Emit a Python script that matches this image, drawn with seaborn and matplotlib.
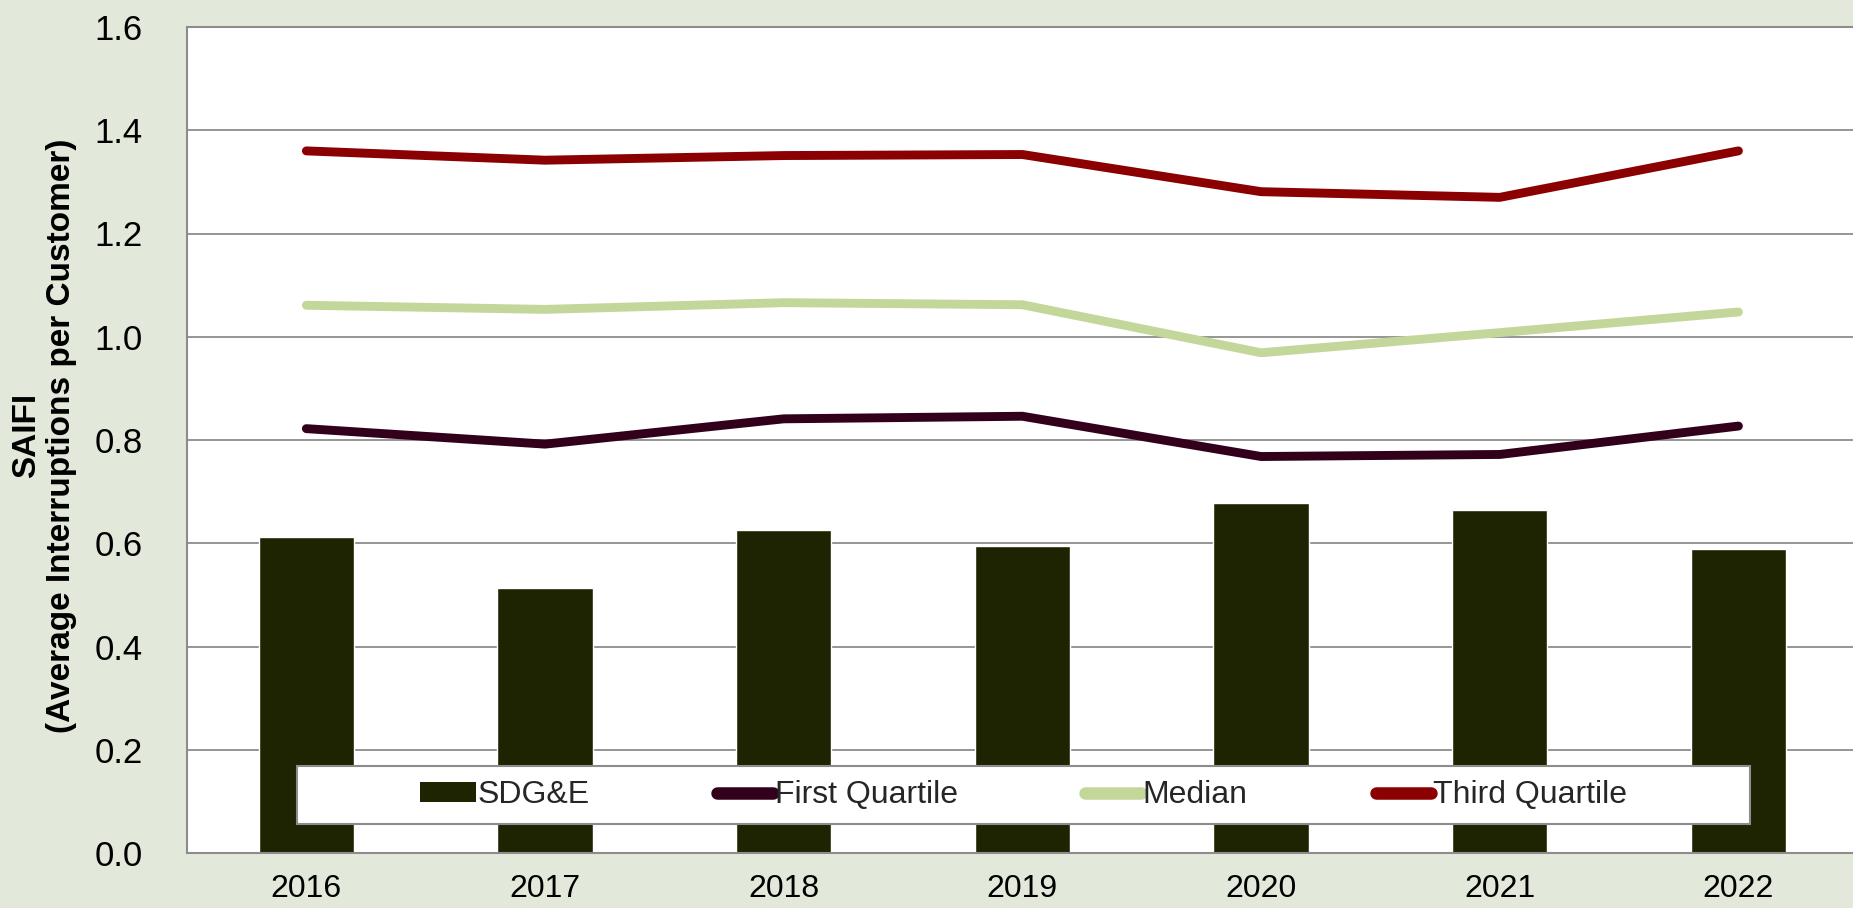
#!/usr/bin/env python3

import numpy as np
import pandas as pd
import seaborn as sns
import matplotlib as mpl
import matplotlib.pyplot as plt
from matplotlib.patches import Patch, Rectangle
from matplotlib.lines import Line2D

sns.set_theme(style="white")
mpl.rcParams["font.family"] = ["Liberation Sans", "DejaVu Sans"]

years = ["2016", "2017", "2018", "2019", "2020", "2021", "2022"]
sdge = [0.613, 0.513, 0.626, 0.594, 0.677, 0.664, 0.589]
first_quartile = [0.822, 0.792, 0.841, 0.846, 0.768, 0.772, 0.827]
median = [1.061, 1.053, 1.066, 1.062, 0.969, 1.008, 1.048]
third_quartile = [1.360, 1.342, 1.351, 1.353, 1.281, 1.270, 1.360]

series_names = ["First Quartile", "Median", "Third Quartile"]
colors = {"SDG&E": "#1E2402", "First Quartile": "#33001C",
          "Median": "#C4D79B", "Third Quartile": "#8B0000"}

bar_df = pd.DataFrame({"year": years, "value": sdge})
line_df = pd.concat(
    [pd.DataFrame({"year": years, "value": v, "series": n})
     for n, v in zip(series_names, [first_quartile, median, third_quartile])]
)

bg = "#E2E8DA"
fig = plt.figure(figsize=(18.53, 9.08), dpi=100, facecolor=bg)
ax = fig.add_axes([187 / 1853, 1 - 853 / 908, 1 - 187 / 1853, (853 - 27) / 908])
ax.set_facecolor("white")

sns.barplot(ax=ax, data=bar_df, x="year", y="value", color=colors["SDG&E"],
            width=0.4, saturation=1, errorbar=None, zorder=2)
sns.pointplot(ax=ax, data=line_df, x="year", y="value", hue="series",
              hue_order=series_names, palette=colors, markers="", errorbar=None,
              linewidth=6.4, solid_capstyle="round", legend=False)
for ln in ax.lines:
    ln.set_zorder(3)
    ln.set_solid_capstyle("round")

ax.set_ylim(0, 1.6)
ax.set_yticks(np.arange(0, 1.61, 0.2))
ax.set_yticklabels([f"{t:.1f}" for t in np.arange(0, 1.61, 0.2)])
ax.set_xlim(-0.5, 6.48)
ax.set_axisbelow(True)
ax.yaxis.grid(True, color="#8C8C8C", linewidth=1.3)
ax.xaxis.grid(False)

for s in ["left", "top", "bottom"]:
    ax.spines[s].set_visible(True)
    ax.spines[s].set_color("#8C8C8C")
    ax.spines[s].set_linewidth(1.5)
ax.spines["right"].set_visible(False)

ax.tick_params(axis="y", length=0, pad=32, labelsize=25, labelcolor="black")
ax.tick_params(axis="x", length=0, pad=15, labelsize=23, labelcolor="black")
ax.set_xlabel("")
ax.set_ylabel("SAIFI\n(Average Interruptions per Customer)", fontsize=24,
              fontweight="bold", color="black", linespacing=1.15, va="center")
ax.yaxis.set_label_coords(-0.0858, 0.505)

# legend box
ax.add_patch(Rectangle((0.066, 0.035), 0.872, 0.070, transform=ax.transAxes,
                       facecolor="white", edgecolor="#8C8C8C", linewidth=1.5,
                       zorder=4))
handles = [Patch(facecolor=colors["SDG&E"], edgecolor="none")]
handles += [Line2D([], [], color=colors[n], linewidth=9, solid_capstyle="round")
            for n in series_names]
leg = ax.legend(handles, ["SDG&E"] + series_names, loc="center",
                bbox_to_anchor=(0.502, 0.070), ncol=4, frameon=False,
                fontsize=23, handlelength=1.75, handleheight=0.55,
                handletextpad=0.05, columnspacing=4.0)
leg.set_zorder(5)

plt.savefig("out.png", dpi=100, facecolor=bg)
